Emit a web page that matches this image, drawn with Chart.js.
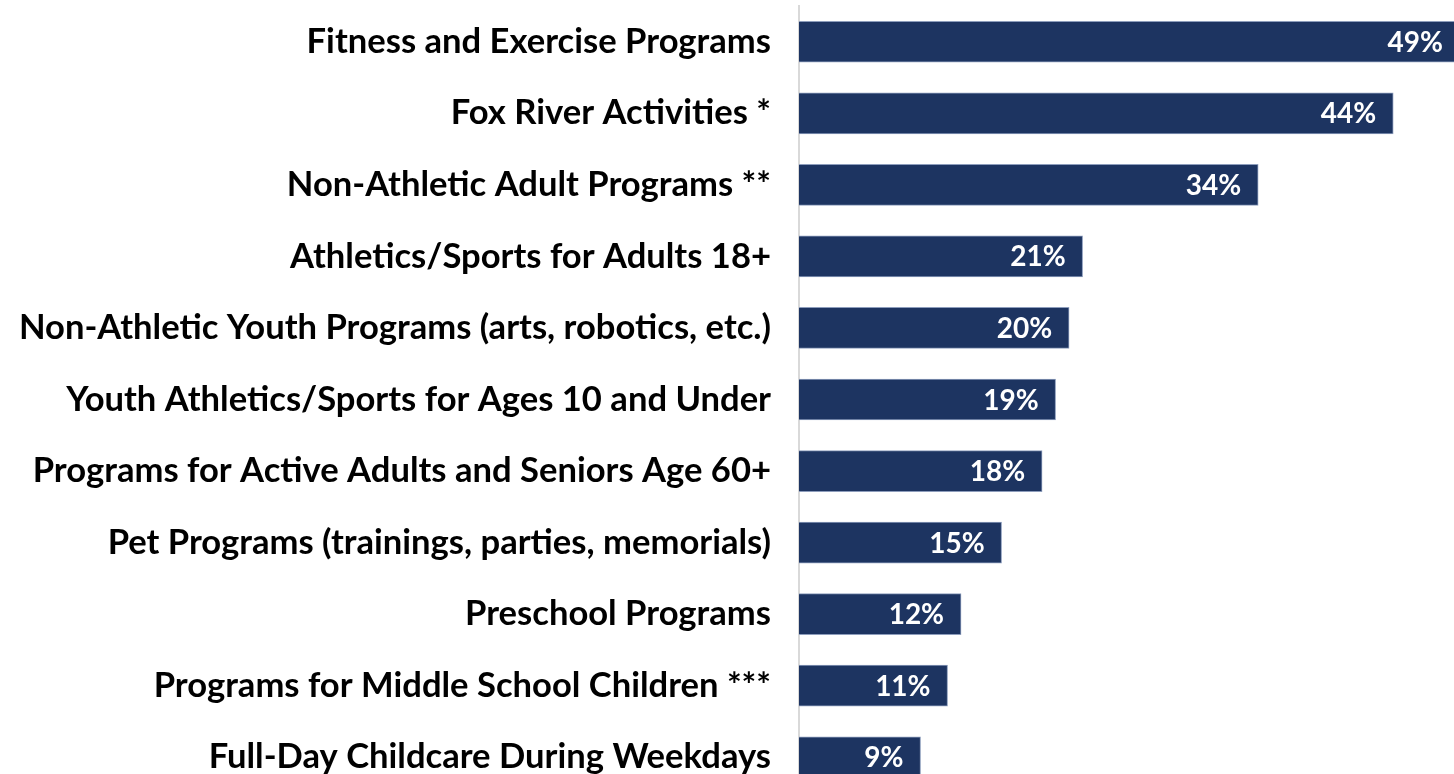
<!DOCTYPE html>
<html>
<head>
<meta charset="utf-8">
<script src="https://cdn.jsdelivr.net/npm/chart.js@4"></script>
<style>
  html, body { margin: 0; padding: 0; background: #fff; overflow: hidden; }
  #wrap { width: 1454px; height: 800px; }
</style>
</head>
<body>
<div id="wrap"><canvas id="programChart"></canvas></div>
<script>
// Program interest (% of respondents)
const categories = [
    'Fitness and Exercise Programs',
    'Fox River Activities *',
    'Non-Athletic Adult Programs **',
    'Athletics/Sports for Adults 18+',
    'Non-Athletic Youth Programs (arts, robotics, etc.)',
    'Youth Athletics/Sports for Ages 10 and Under',
    'Programs for Active Adults and Seniors Age 60+',
    'Pet Programs (trainings, parties, memorials)',
    'Preschool Programs',
    'Programs for Middle School Children ***',
    'Full-Day Childcare During Weekdays'
];
const percentValues = [49, 44, 34, 21, 20, 19, 18, 15, 12, 11, 9];

const FONT = 'Lato, "Open Sans", sans-serif';

// labels inside the end of each bar
const barValueLabels = {
    id: 'barValueLabels',
    afterDatasetsDraw(chart) {
        const ctx = chart.ctx;
        const meta = chart.getDatasetMeta(0);
        ctx.save();
        ctx.font = 'bold 28px ' + FONT;
        ctx.fillStyle = '#ffffff';
        ctx.textAlign = 'right';
        ctx.textBaseline = 'middle';
        meta.data.forEach(function(bar, i) {
            const xEnd = Math.min(bar.x, chart.chartArea.right + 6);
            ctx.fillText(percentValues[i] + '%', xEnd - 17, bar.y + 1);
        });
        ctx.restore();
    }
};

document.addEventListener("DOMContentLoaded", function() {
    const ctx = document.getElementById('programChart').getContext('2d');

    new Chart(ctx, {
        type: 'bar',
        data: {
            labels: categories,
            datasets: [{
                data: percentValues,
                backgroundColor: '#1d3461',
                borderColor: '#8d9dbc',
                borderWidth: 1,
                borderSkipped: 'left',
                barThickness: 41
            }]
        },
        options: {
            indexAxis: 'y',
            responsive: true,
            maintainAspectRatio: false,
            animation: false,
            layout: {
                padding: { top: 6, bottom: 7, left: 0, right: 0 }
            },
            plugins: {
                legend: { display: false },
                tooltip: { enabled: false }
            },
            scales: {
                x: {
                    display: false,
                    min: 0,
                    max: 48.5
                },
                y: {
                    afterFit: function(scale) {
                        scale.width = 799;
                        scale.paddingTop = 0;
                        scale.paddingBottom = 0;
                    },
                    grid: { display: false, drawTicks: false },
                    border: { display: true, color: '#d9d9d9', width: 2 },
                    ticks: {
                        color: '#000000',
                        padding: 28,
                        autoSkip: false,
                        font: { family: FONT, size: 34.6, weight: 'bold' }
                    }
                }
            }
        },
        plugins: [barValueLabels]
    });
});
</script>
</body>
</html>
